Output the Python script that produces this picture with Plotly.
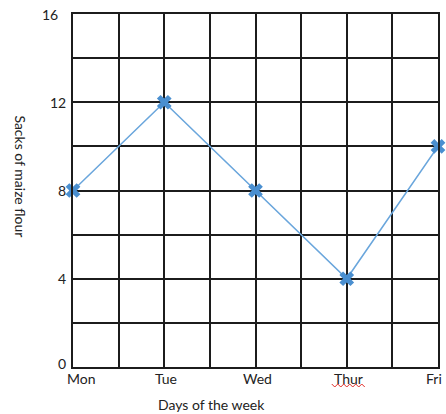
import plotly.graph_objects as go

# Sacks of maize flour sold per day
days = ["Mon", "Tue", "Wed", "Thur", "Fri"]
sacks = [8, 12, 8, 4, 10]
y_labels = [0, 4, 8, 12, 16]

FONT = "Lato, 'Open Sans', sans-serif"
LINE_BLUE = "#6aa6dc"
MARK_BLUE = "#4a8fd0"

x_pos = list(range(len(days)))

fig = go.Figure()
fig.add_trace(go.Scatter(
    x=x_pos, y=sacks, mode="lines+markers",
    line=dict(color=LINE_BLUE, width=1.6),
    marker=dict(symbol="x", size=13, color=MARK_BLUE, line=dict(width=0)),
    cliponaxis=False, showlegend=False, hoverinfo="skip",
))

# half-day grid in x, 2-sack grid in y
x_grid = [i / 2 for i in range(2 * (len(days) - 1) + 1)]
y_grid = list(range(0, 17, 2))

fig.update_xaxes(
    range=[0, len(days) - 1], tickvals=x_grid, ticktext=[""] * len(x_grid),
    showgrid=True, gridcolor="#1c1c1c", gridwidth=1.8,
    zeroline=False, showline=True, linecolor="#1c1c1c", linewidth=1.8, mirror=True,
    ticks="", fixedrange=True,
)
fig.update_yaxes(
    range=[0, 16], tickvals=y_grid, ticktext=[""] * len(y_grid),
    showgrid=True, gridcolor="#1c1c1c", gridwidth=1.8,
    zeroline=False, showline=True, linecolor="#1c1c1c", linewidth=1.8, mirror=True,
    ticks="", fixedrange=True,
)

annotations = []
# y tick labels
for v in y_labels:
    annotations.append(dict(
        x=0, xref="paper", xanchor="right", xshift=-5 - (8 if v == 16 else 0),
        y=v, yref="y", yanchor="middle", yshift=4 if v == 0 else 0,
        text=str(v), showarrow=False, font=dict(family=FONT, size=14, color="#222"),
    ))
# x tick labels (first nudged right of the corner, last kept inside the page)
last = len(days) - 1
for i, d in enumerate(days):
    annotations.append(dict(
        x=i, xref="x", xanchor="right" if i == last else "center",
        xshift=8 if i == 0 else (6 if i == last else 2),
        y=0, yref="paper", yanchor="top", yshift=-1,
        text=d, showarrow=False, font=dict(family=FONT, size=14, color="#222"),
    ))
# axis titles
annotations.append(dict(
    x=0.38, xref="paper", y=0, yref="paper", yanchor="top", yshift=-27,
    text="Days of the week", showarrow=False,
    font=dict(family=FONT, size=14, color="#222"),
))
annotations.append(dict(
    x=0, xref="paper", xanchor="center", xshift=-52, y=0.54, yref="paper",
    text="Sacks of maize flour", textangle=90, showarrow=False,
    font=dict(family=FONT, size=14, color="#222"),
))

# spell-check squiggle beneath "Thur"
squiggle = "M -15 -17" + "".join(
    f" L {-15 + 3 * (k + 1)} {-20 if k % 2 == 0 else -17}" for k in range(11)
)
shapes = [dict(
    type="path", xref="x", yref="paper", xsizemode="pixel", ysizemode="pixel",
    xanchor=days.index("Thur"), yanchor=0, path=squiggle,
    line=dict(color="#e0302a", width=1),
)]

fig.update_layout(
    width=446, height=414,
    margin=dict(l=73, r=6, t=14, b=47),
    plot_bgcolor="white", paper_bgcolor="white",
    annotations=annotations, shapes=shapes,
)

fig.write_html("out.html")
